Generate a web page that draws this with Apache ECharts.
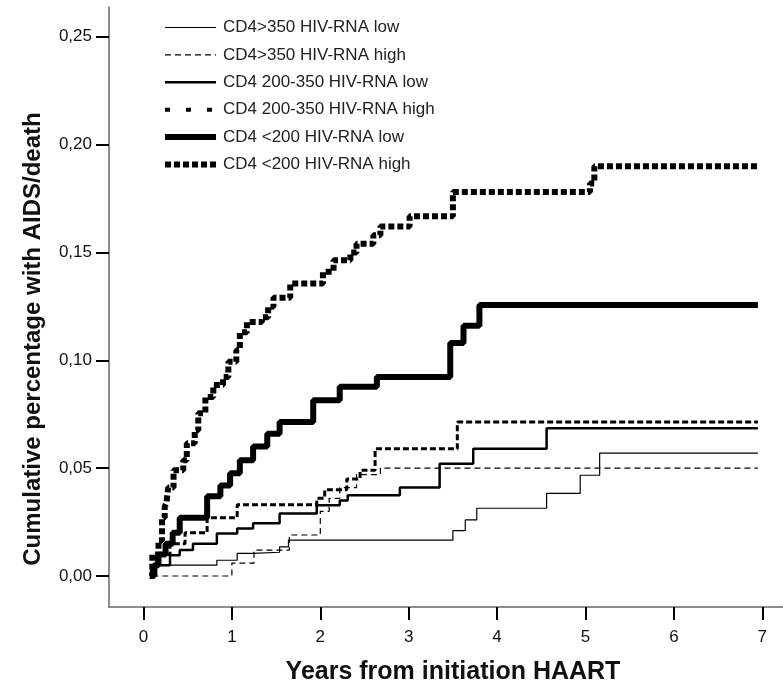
<!DOCTYPE html>
<html>
<head>
<meta charset="utf-8">
<script src="https://cdn.jsdelivr.net/npm/echarts@6/dist/echarts.min.js"></script>
<style>
html, body { margin: 0; padding: 0; background: #fff; }
#chart { width: 783px; height: 685px; }
</style>
</head>
<body>
<div id="chart"></div>
<script>
// group names, legend order
var groupNames = [
  'CD4>350 HIV-RNA low',
  'CD4>350 HIV-RNA high',
  'CD4 200-350 HIV-RNA low',
  'CD4 200-350 HIV-RNA high',
  'CD4 <200 HIV-RNA low',
  'CD4 <200 HIV-RNA high'
]

// [years, cumulative proportion]
var cd4Over350Low = [[0.08, 0], [0.15, 0.005], [0.83, 0.0073], [1.06, 0.0105], [1.24, 0.011], [1.54, 0.0135],
  [1.64, 0.0166], [3.5, 0.021], [3.64, 0.026], [3.77, 0.0314], [4.56, 0.0383], [4.94, 0.0467], [5.16, 0.057], [6.95, 0.057]]
var cd4Over350High = [[0.1, 0], [1.0, 0.006], [1.25, 0.012], [1.65, 0.019], [2.0, 0.03], [2.1, 0.036],
  [2.22, 0.041], [2.41, 0.047], [2.68, 0.05], [6.95, 0.05]]
var cd4Mid350Low = [[0.08, 0], [0.12, 0.005], [0.3, 0.0096], [0.41, 0.012], [0.56, 0.015], [0.83, 0.0197],
  [1.06, 0.022], [1.24, 0.0244], [1.54, 0.029], [1.96, 0.0328], [2.22, 0.035], [2.31, 0.0374], [2.9, 0.041],
  [3.35, 0.052], [3.73, 0.059], [4.56, 0.0685], [6.95, 0.0685]]
var cd4Mid350High = [[0.08, 0], [0.1, 0.005], [0.15, 0.01], [0.3, 0.015], [0.47, 0.02], [0.72, 0.027],
  [1.06, 0.033], [1.96, 0.036], [2.05, 0.04], [2.3, 0.045], [2.45, 0.049], [2.62, 0.059], [3.55, 0.0714], [6.95, 0.0714]]
var cd4Under200Low = [[0.08, 0], [0.12, 0.005], [0.17, 0.01], [0.25, 0.015], [0.33, 0.02], [0.41, 0.027],
  [0.72, 0.037], [0.87, 0.042], [0.98, 0.0476], [1.09, 0.0537], [1.24, 0.06], [1.4, 0.066], [1.54, 0.0714],
  [1.92, 0.0815], [2.22, 0.0877], [2.64, 0.0923], [3.47, 0.108], [3.62, 0.116], [3.8, 0.1256], [6.95, 0.1256]]
var cd4Under200High = [[0.07, 0], [0.1, 0.01], [0.17, 0.0165], [0.21, 0.027], [0.24, 0.032], [0.26, 0.034],
  [0.28, 0.041], [0.34, 0.049], [0.45, 0.0537], [0.49, 0.0615], [0.58, 0.0676], [0.62, 0.0755], [0.7, 0.083],
  [0.79, 0.0885], [0.9, 0.0923], [0.96, 0.0993], [1.05, 0.1047], [1.09, 0.113], [1.17, 0.1178], [1.34, 0.12],
  [1.41, 0.1248], [1.47, 0.129], [1.66, 0.1356], [2.03, 0.141], [2.15, 0.1464], [2.34, 0.15], [2.41, 0.154],
  [2.6, 0.158], [2.68, 0.162], [3.01, 0.1668], [3.5, 0.178], [5.05, 0.182], [5.1, 0.19], [6.95, 0.19]]

var xTicks = [0, 1, 2, 3, 4, 5, 6, 7]
var yTicks = [0, 0.05, 0.1, 0.15, 0.2, 0.25]

var curves = [cd4Over350Low, cd4Over350High, cd4Mid350Low, cd4Mid350High, cd4Under200Low, cd4Under200High]
var lineWidths = [1.2, 1.2, 2.5, 3, 6, 6]
var lineTypes = ['solid', [6, 4], 'solid', [6, 3], 'solid', [6, 3]]

var myChart = echarts.init(document.getElementById('chart'))

var option = {
  animation: false,
  backgroundColor: '#fff',
  textStyle: { fontFamily: 'Liberation Sans, Arial, sans-serif' },
  grid: { left: 109, right: 0, top: 7, bottom: 78 },
  legend: {
    orient: 'vertical',
    left: 157,
    top: 14,
    itemWidth: 51,
    itemHeight: 14,
    itemGap: 10.4,
    itemStyle: { opacity: 0, borderWidth: 0 },
    lineStyle: { width: 'inherit' },
    textStyle: { fontSize: 17, color: '#222', padding: [0, 0, 0, 2] },
    data: groupNames.map(function(n, i) {
      var d = { name: n }
      // legend sample for this one is spaced squares
      if (i === 3) d.lineStyle = { type: [5, 16], width: 4 }
      return d
    })
  },
  xAxis: {
    type: 'value',
    min: -0.39,
    max: 7.234,
    splitLine: { show: false },
    axisLine: { onZero: false, lineStyle: { color: '#666', width: 1.5 } },
    axisTick: { length: 13, customValues: xTicks, lineStyle: { color: '#000', width: 2 } },
    axisLabel: { customValues: xTicks, margin: 22, fontSize: 17, color: '#111' }
  },
  yAxis: {
    type: 'value',
    min: -0.01438,
    max: 0.2638,
    splitLine: { show: false },
    axisLine: { show: true, onZero: false, lineStyle: { color: '#666', width: 1.5 } },
    axisTick: { show: true, length: 13, customValues: yTicks, lineStyle: { color: '#000', width: 2 } },
    axisLabel: {
      customValues: yTicks,
      margin: 17,
      fontSize: 17,
      color: '#111',
      formatter: function(v) { return v.toFixed(2).replace('.', ',') }
    }
  },
  graphic: [
    {
      type: 'text',
      x: 453,
      y: 672,
      style: {
        text: 'Years from initiation HAART',
        font: 'bold 25px Liberation Sans, Arial, sans-serif',
        fill: '#111',
        align: 'center',
        verticalAlign: 'middle'
      }
    },
    {
      type: 'text',
      x: 33,
      y: 339,
      rotation: Math.PI / 2,
      style: {
        text: 'Cumulative percentage with AIDS/death',
        font: 'bold 24px Liberation Sans, Arial, sans-serif',
        fill: '#111',
        align: 'center',
        verticalAlign: 'middle'
      }
    }
  ],
  series: curves.map(function(c, i) {
    return {
      name: groupNames[i],
      type: 'line',
      step: 'end',
      symbol: 'none',
      data: c,
      lineStyle: { color: '#000', width: lineWidths[i], type: lineTypes[i], cap: 'butt' },
      itemStyle: { color: '#000' },
      emphasis: { disabled: true }
    }
  })
}
myChart.setOption(option)
</script>
</body>
</html>
